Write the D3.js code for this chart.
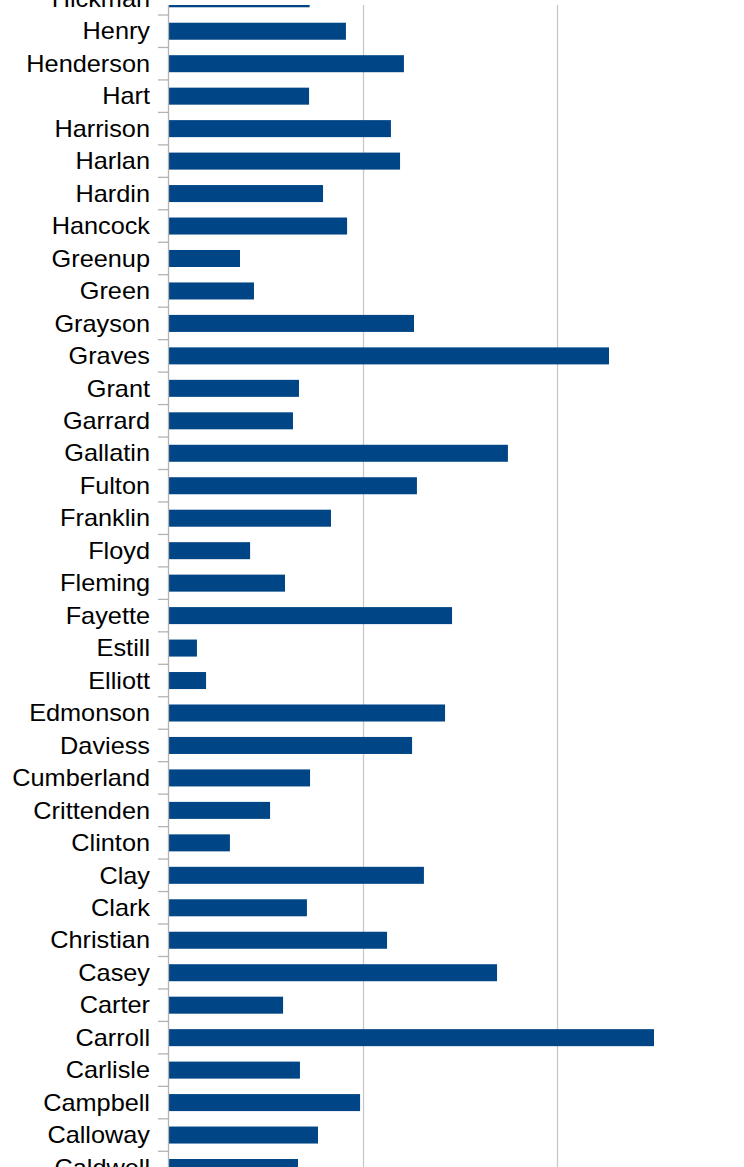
<!DOCTYPE html>
<html>
<head>
<meta charset="utf-8">
<script src="https://cdn.jsdelivr.net/npm/d3@7"></script>
<style>
  html, body { margin: 0; padding: 0; background: #fff; }
  svg { display: block; }
</style>
</head>
<body>
<svg id="chart" width="744" height="1167"></svg>
<script>
const categories = ["Hickman","Henry","Henderson","Hart","Harrison","Harlan","Hardin","Hancock","Greenup","Green","Grayson","Graves","Grant","Garrard","Gallatin","Fulton","Franklin","Floyd","Fleming","Fayette","Estill","Elliott","Edmonson","Daviess","Cumberland","Crittenden","Clinton","Clay","Clark","Christian","Casey","Carter","Carroll","Carlisle","Campbell","Calloway","Caldwell"];
const values = [7.25,9.12,12.11,7.22,11.44,11.91,7.94,9.18,3.66,4.38,12.63,22.68,6.70,6.39,17.47,12.78,8.35,4.18,5.98,14.59,1.44,1.91,14.23,12.53,7.27,5.21,3.14,13.14,7.11,11.24,16.91,5.88,25.00,6.75,9.85,7.68,6.65];
const xTicks = [0, 10, 20, 30];

const W = 744, H = 1167;
const plot = { left: 169, top: 5, right: 751, bottom: 1167 };
const step = 32.465;
const firstBandStart = 15 - step;

const svg = d3.select("#chart");

const x = d3.scaleLinear().domain([0, 30]).range([plot.left, plot.right]);
const y = d3.scaleBand()
  .domain(categories)
  .range([firstBandStart, firstBandStart + step * categories.length])
  .paddingInner(0.476)
  .paddingOuter(0.238);
const yEdge = d3.scaleBand().domain(categories)
  .range([firstBandStart, firstBandStart + step * categories.length]).padding(0);

svg.append("defs").append("clipPath").attr("id", "plotclip")
  .append("rect").attr("x", plot.left).attr("y", plot.top)
  .attr("width", plot.right - plot.left).attr("height", plot.bottom - plot.top);

// gridlines
svg.append("g").selectAll("line").data(xTicks.filter(d => d > 0)).join("line")
  .attr("x1", d => Math.round(x(d)) + 0.5).attr("x2", d => Math.round(x(d)) + 0.5)
  .attr("y1", plot.top).attr("y2", plot.bottom)
  .attr("stroke", "#c8c8c8").attr("stroke-width", 1.3);

// bars
svg.append("g").attr("clip-path", "url(#plotclip)")
  .selectAll("rect").data(categories).join("rect")
  .attr("x", x(0))
  .attr("y", d => y(d))
  .attr("width", (d, i) => x(values[i]) - x(0))
  .attr("height", y.bandwidth())
  .attr("fill", "#004586");

// category axis line
svg.append("line")
  .attr("x1", plot.left - 0.5).attr("x2", plot.left - 0.5)
  .attr("y1", plot.top).attr("y2", plot.bottom)
  .attr("stroke", "#b3b3b3").attr("stroke-width", 1.3);

// ticks at band boundaries
const edges = categories.map(c => yEdge(c)).concat([yEdge(categories[categories.length-1]) + step])
  .filter(v => v >= plot.top && v <= plot.bottom);
svg.append("g").selectAll("line").data(edges).join("line")
  .attr("x1", plot.left - 11).attr("x2", plot.left)
  .attr("y1", d => d).attr("y2", d => d)
  .attr("stroke", "#b3b3b3").attr("stroke-width", 1.3);

// labels
svg.append("g").selectAll("text").data(categories).join("text")
  .attr("transform", d => `translate(150,${yEdge(d) + step / 2 + 8.2}) scale(1.054,1)`)
  .attr("text-anchor", "end")
  .attr("font-family", "'Liberation Sans', Arial, sans-serif")
  .attr("font-size", 24)
  .attr("fill", "#000")
  .text(d => d);
</script>
</body>
</html>
